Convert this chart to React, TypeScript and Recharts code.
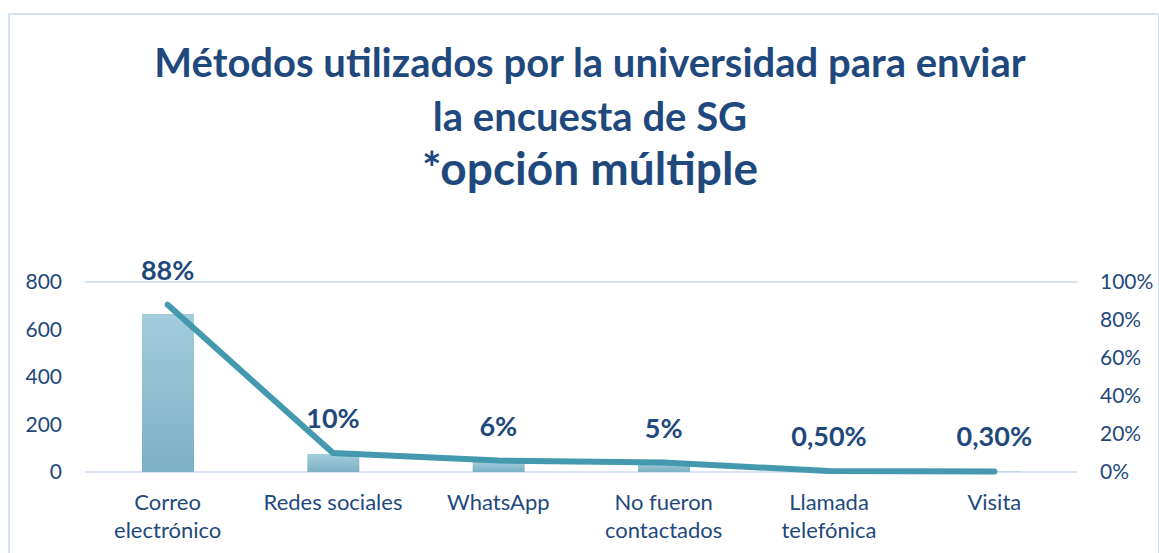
import React from 'react';
import { ComposedChart, Bar, Line, XAxis, YAxis, CartesianGrid, LabelList } from 'recharts';

const categories = ['Correo electrónico', 'Redes sociales', 'WhatsApp', 'No fueron contactados', 'Llamada telefónica', 'Visita'];
const counts = [665, 76, 45, 38, 4, 2];
const shares = [0.88, 0.1, 0.06, 0.05, 0.005, 0.003];
const shareLabels = ['88%', '10%', '6%', '5%', '0,50%', '0,30%'];
const leftTicks = [0, 200, 400, 600, 800];
const rightTicks = [0, 0.2, 0.4, 0.6, 0.8, 1];

const data = categories.map((name, i) => ({
  name,
  count: counts[i],
  share: shares[i],
  label: shareLabels[i],
}));

const NAVY = '#1F497D';
const FONT = 'Lato, "Open Sans", sans-serif';

// greedy word wrap, roughly the width of one category slot
const wrap = (s: string, max = 14) => {
  const out: string[] = [];
  let cur = '';
  s.split(' ').forEach((w) => {
    if (cur && (cur + ' ' + w).length > max) {
      out.push(cur);
      cur = w;
    } else {
      cur = cur ? cur + ' ' + w : w;
    }
  });
  if (cur) out.push(cur);
  return out;
};

const CategoryTick = (props: any) => {
  const { x, y, payload } = props;
  const lines = wrap(payload.value);
  return (
    <text x={x} y={y} textAnchor="middle" fill={NAVY} fontSize={22} fontFamily={FONT}>
      {lines.map((l, i) => (
        <tspan key={i} x={x} dy={i === 0 ? 38 : 28}>
          {l}
        </tspan>
      ))}
    </text>
  );
};

const ShareLabel = (props: any) => {
  const { x, y, index } = props;
  return (
    <text x={x} y={y - 25} textAnchor="middle" fill={NAVY} fontSize={27} fontWeight={700} fontFamily={FONT}>
      {shareLabels[index]}
    </text>
  );
};

export default function App() {
  return (
    <div style={{ position: 'absolute', left: 0, top: 0, width: 1159, height: 553, background: '#fff', overflow: 'hidden', fontFamily: FONT }}>
      {/* chart frame, runs off the bottom of the picture */}
      <div style={{ position: 'absolute', left: 8, top: 13, width: 1148, height: 560, border: '2px solid #d6e2ef', borderBottom: 'none' }} />

      <div style={{ position: 'absolute', left: 90, width: 1000, textAlign: 'center', color: NAVY, fontWeight: 700 }}>
        <div style={{ position: 'absolute', top: 40, width: '100%', fontSize: 40, lineHeight: '44px' }}>
          Métodos utilizados por la universidad para enviar
        </div>
        <div style={{ position: 'absolute', top: 94, width: '100%', fontSize: 40, lineHeight: '44px' }}>
          la encuesta de SG
        </div>
        <div style={{ position: 'absolute', top: 142, width: '100%', fontSize: 46, lineHeight: '52px' }}>
          *opción múltiple
        </div>
      </div>

      <div style={{ position: 'absolute', left: 0, top: 0 }}>
        <ComposedChart width={1159} height={553} data={data} margin={{ top: 282, right: 22, bottom: 21, left: 25 }}>
          <defs>
            <linearGradient id="barFill" x1="0" y1="0" x2="0" y2="1">
              <stop offset="0%" stopColor="#a3cddc" />
              <stop offset="100%" stopColor="#7cb0c3" />
            </linearGradient>
          </defs>
          <CartesianGrid vertical={false} stroke="#d9e3f1" strokeWidth={2} />
          <XAxis
            dataKey="name"
            axisLine={false}
            tickLine={false}
            tickSize={0}
            tickMargin={0}
            height={60}
            interval={0}
            tick={<CategoryTick />}
          />
          <YAxis
            yAxisId="left"
            domain={[0, 800]}
            ticks={leftTicks}
            axisLine={false}
            tickLine={false}
            tickSize={0}
            tickMargin={23}
            width={60}
            tick={{ fill: NAVY, fontSize: 21, fontFamily: FONT }}
          />
          <YAxis
            yAxisId="right"
            orientation="right"
            domain={[0, 1]}
            ticks={rightTicks}
            axisLine={false}
            tickLine={false}
            tickSize={0}
            tickMargin={23}
            width={60}
            tickFormatter={(v: number) => `${Math.round(v * 100)}%`}
            tick={{ fill: NAVY, fontSize: 21, fontFamily: FONT, textAnchor: 'start' }}
          />
          <Bar yAxisId="left" dataKey="count" fill="url(#barFill)" barSize={52} isAnimationActive={false} />
          <Line
            yAxisId="right"
            type="linear"
            dataKey="share"
            stroke="#4499ae"
            strokeWidth={6}
            strokeLinecap="round"
            dot={false}
            activeDot={false}
            isAnimationActive={false}
          >
            <LabelList dataKey="label" content={<ShareLabel />} />
          </Line>
        </ComposedChart>
      </div>
    </div>
  );
}
